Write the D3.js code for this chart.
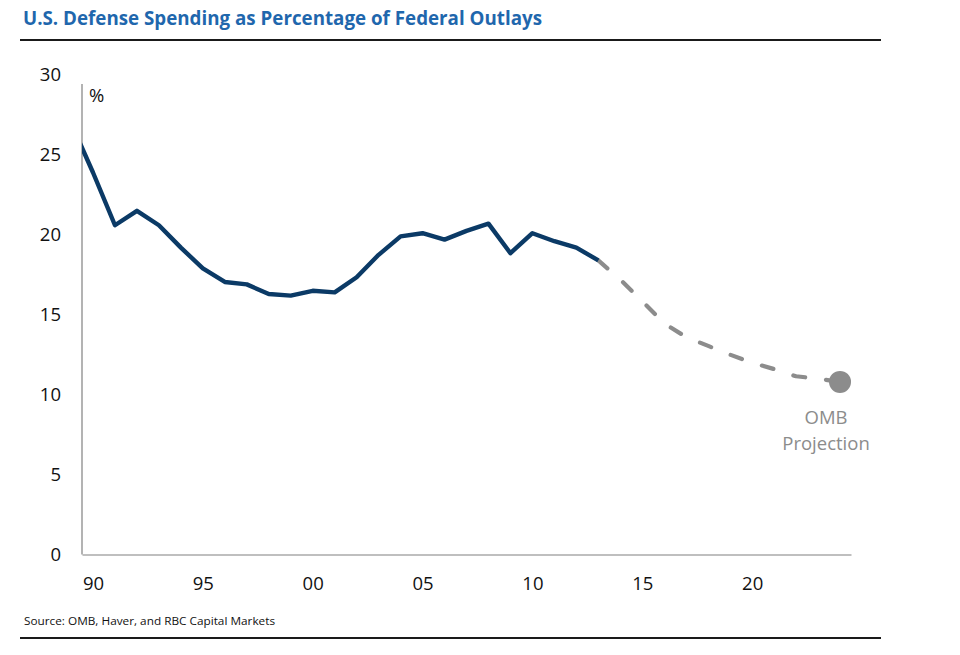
<!DOCTYPE html>
<html><head><meta charset="utf-8">
<script src="https://cdn.jsdelivr.net/npm/d3@7"></script>
<style>body{margin:0;background:#fff} svg{display:block}</style>
</head><body><svg id="c" width="960" height="655"></svg>
<script>
// ---- data ----
const titleText = "U.S. Defense Spending as Percentage of Federal Outlays";
const sourceText = "Source: OMB, Haver, and RBC Capital Markets";
const unitLabel = "%";
const projLabelLines = ["OMB", "Projection"];

const histYears  = [1989,1990,1991,1992,1993,1994,1995,1996,1997,1998,1999,2000,2001,2002,2003,2004,2005,2006,2007,2008,2009,2010,2011,2012,2013];
const histValues = [27.0,23.9,20.6,21.5,20.6,19.2,17.9,17.05,16.9,16.3,16.2,16.5,16.4,17.35,18.75,19.9,20.1,19.7,20.25,20.7,18.85,20.1,19.6,19.2,18.4];

const projYears  = [2013,2014,2015,2016,2017,2018,2019,2020,2021,2022,2023,2024];
const projValues = [18.4,17.2,15.85,14.45,13.6,13.05,12.5,12.0,11.6,11.15,11.0,10.8];

const xTickYears  = [1990,1995,2000,2005,2010,2015,2020];
const xTickLabels = ["90","95","00","05","10","15","20"];
const yTicks = [0,5,10,15,20,25,30];

// ---- drawing ----
const svg = d3.select("#c");
const FONT = "'Open Sans', 'Noto Sans', sans-serif";
const navy = "#0b3a66", grey = "#8c8c8c", titleBlue = "#1f67ad";

const x = d3.scaleLinear().domain([1989.5, 2024.5]).range([82, 851]);
const y = d3.scaleLinear().domain([0, 30]).range([554.5, 75]);

function fitText(sel, target) {
  const w = sel.node().getComputedTextLength();
  if (w > 0) {
    sel.attr("textLength", target).attr("lengthAdjust", "spacingAndGlyphs");
  }
}

// title
const t = svg.append("text").attr("x", 23).attr("y", 25)
  .attr("font-family", FONT).attr("font-weight", 700).attr("font-size", 20)
  .attr("fill", titleBlue).text(titleText);
fitText(t, 519);

svg.append("line").attr("x1", 20).attr("x2", 881).attr("y1", 40).attr("y2", 40)
  .attr("stroke", "#1a1a1a").attr("stroke-width", 2);

// y axis
const yAxis = d3.axisLeft(y).tickValues(yTicks).tickSize(0).tickPadding(21).tickFormat(d3.format("d"));
const gy = svg.append("g").attr("transform", `translate(${x.range()[0]},0)`).call(yAxis);
gy.select(".domain").remove();
gy.selectAll("text").attr("font-family", FONT).attr("font-size", 18.5).attr("fill", "#111");
svg.append("line").attr("x1", x.range()[0]).attr("x2", x.range()[0])
  .attr("y1", y(29.43)).attr("y2", y(0)).attr("stroke", "#808080").attr("stroke-width", 1.2);

// x axis
const xAxis = d3.axisBottom(x).tickValues(xTickYears).tickSize(0).tickPadding(22)
  .tickFormat((d, i) => xTickLabels[i]);
const gx = svg.append("g").attr("transform", `translate(0,${y(0)})`).call(xAxis);
gx.select(".domain").attr("stroke", "#808080").attr("stroke-width", 1.2);
gx.selectAll("text").attr("font-family", FONT).attr("font-size", 18.5).attr("fill", "#111");

// unit label
svg.append("text").attr("x", 89).attr("y", 102)
  .attr("font-family", FONT).attr("font-size", 18.5).attr("fill", "#111").text(unitLabel);

// clip
svg.append("clipPath").attr("id", "plotclip").append("rect")
  .attr("x", x.range()[0]).attr("y", 0).attr("width", x.range()[1] - x.range()[0] + 20).attr("height", y(0));

const line = d3.line().x(d => x(d[0])).y(d => y(d[1]));

svg.append("path").datum(projYears.map((yr, i) => [yr, projValues[i]]))
  .attr("d", line).attr("fill", "none").attr("stroke", grey).attr("stroke-width", 4.2)
  .attr("stroke-dasharray", "12,21").attr("stroke-linecap", "round").attr("stroke-linejoin", "round");

svg.append("path").datum(histYears.map((yr, i) => [yr, histValues[i]]))
  .attr("clip-path", "url(#plotclip)")
  .attr("d", line).attr("fill", "none").attr("stroke", navy).attr("stroke-width", 4.4)
  .attr("stroke-linejoin", "round");

// projection end point
const lastYr = projYears[projYears.length - 1], lastV = projValues[projValues.length - 1];
svg.append("circle").attr("cx", x(lastYr)).attr("cy", y(lastV)).attr("r", 11).attr("fill", grey);

const pl = svg.append("text").attr("text-anchor", "middle")
  .attr("font-family", FONT).attr("font-size", 18.5).attr("fill", grey);
projLabelLines.forEach((s, i) => {
  pl.append("tspan").attr("x", x(lastYr) - 14).attr("y", y(lastV) + 42 + i * 26).text(s);
});

// source & bottom rule
const s = svg.append("text").attr("x", 24).attr("y", 625)
  .attr("font-family", FONT).attr("font-size", 11).attr("fill", "#111").text(sourceText);
fitText(s, 251);
svg.append("line").attr("x1", 20).attr("x2", 881).attr("y1", 638).attr("y2", 638)
  .attr("stroke", "#1a1a1a").attr("stroke-width", 2);
</script>
</body></html>
